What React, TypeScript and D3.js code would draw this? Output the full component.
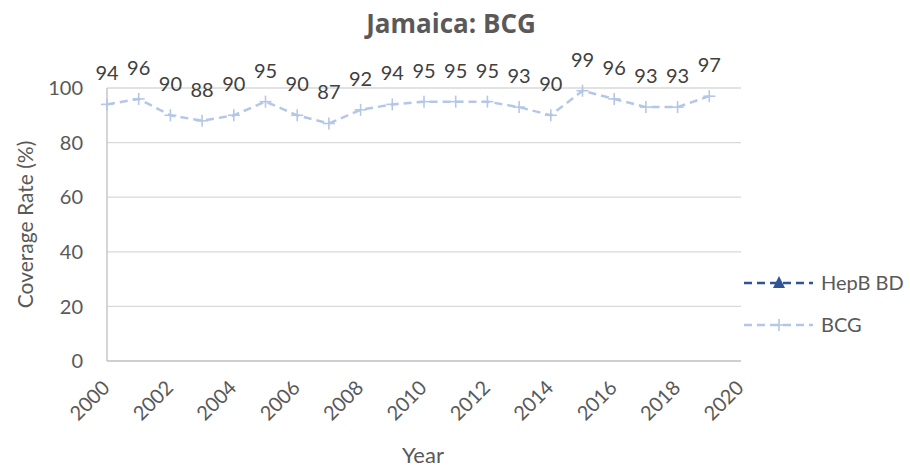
import * as d3 from "d3";

const years = [2000, 2001, 2002, 2003, 2004, 2005, 2006, 2007, 2008, 2009, 2010, 2011, 2012, 2013, 2014, 2015, 2016, 2017, 2018, 2019];
const bcg = [94, 96, 90, 88, 90, 95, 90, 87, 92, 94, 95, 95, 95, 93, 90, 99, 96, 93, 93, 97];
const yTicks = [0, 20, 40, 60, 80, 100];
const xTicks = [2000, 2002, 2004, 2006, 2008, 2010, 2012, 2014, 2016, 2018, 2020];
const legendItems = ["HepB BD", "BCG"];

const App = () => {
  const width = 910,
    height = 467,
    marginLeft = 107,
    marginRight = 169,
    marginTop = 88,
    marginBottom = 106;

  const font = "Lato, 'Open Sans', sans-serif";
  const x = d3.scaleLinear([2000, 2020], [marginLeft, width - marginRight]);
  const y = d3.scaleLinear([0, 100], [height - marginBottom, marginTop]);
  const line = d3.line<number>((d, i) => x(years[i]), (d) => y(d));

  const bcgColor = "#b4c7e7";
  const hepColor = "#2f5597";

  const plus = (cx: number, cy: number, color: string, k: string | number) => (
    <g key={k} stroke={color} strokeWidth={1.6}>
      <line x1={cx - 6} x2={cx + 6} y1={cy} y2={cy} />
      <line x1={cx} x2={cx} y1={cy - 6} y2={cy + 6} />
    </g>
  );

  return (
    <svg width={width} height={height} style={{ position: "absolute", left: 0, top: 0 }} fontFamily={font}>
      <text x={451} y={33} textAnchor="middle" fontSize={26} fontWeight="bold" fill="#595959" fontFamily="'Open Sans', sans-serif">
        Jamaica: BCG
      </text>

      {yTicks.map((t) => (
        <g key={t}>
          {t > 0 && (
            <line x1={x(2000)} x2={x(2020)} y1={y(t)} y2={y(t)} stroke="#d9d9d9" strokeWidth={1.3} />
          )}
          <text x={83} y={y(t)} dy="0.36em" textAnchor="end" fontSize={20} fill="#595959">
            {t}
          </text>
        </g>
      ))}
      <line x1={x(2000)} x2={x(2000)} y1={y(0)} y2={y(100)} stroke="#bfbfbf" strokeWidth={1.3} />
      <line x1={x(2000)} x2={x(2020)} y1={y(0)} y2={y(0)} stroke="#bfbfbf" strokeWidth={1.3} />

      {xTicks.map((t) => (
        <text
          key={t}
          transform={`translate(${x(t) + 4},${y(0) + 28}) rotate(-45)`}
          textAnchor="end"
          fontSize={20}
          fill="#595959"
        >
          {t}
        </text>
      ))}

      <text x={423} y={463} textAnchor="middle" fontSize={22} fill="#595959">
        Year
      </text>
      <text transform={`translate(33,${(y(0) + y(100)) / 2}) rotate(-90)`} textAnchor="middle" fontSize={21} fill="#595959">
        Coverage Rate (%)
      </text>

      <path d={line(bcg) ?? ""} fill="none" stroke={bcgColor} strokeWidth={2.5} strokeDasharray="8,5" />
      {bcg.map((d, i) => plus(x(years[i]), y(d), bcgColor, i))}
      {bcg.map((d, i) => (
        <text key={"l" + i} x={x(years[i])} y={y(d) - 24} textAnchor="middle" fontSize={20} fill="#404040">
          {d}
        </text>
      ))}

      {legendItems.map((name, i) => {
        const ly = 283 + i * 42;
        const color = i === 0 ? hepColor : bcgColor;
        return (
          <g key={name}>
            <line x1={744} x2={813} y1={ly} y2={ly} stroke={color} strokeWidth={2.5} strokeDasharray="8,5" />
            {i === 0 ? (
              <path d={`M779,${ly - 7} L785,${ly + 5} L773,${ly + 5} Z`} fill={color} />
            ) : (
              plus(779, ly, color, "lp")
            )}
            <text x={821} y={ly} dy="0.36em" fontSize={20} fill="#595959">
              {name}
            </text>
          </g>
        );
      })}
    </svg>
  );
};

export default App;
